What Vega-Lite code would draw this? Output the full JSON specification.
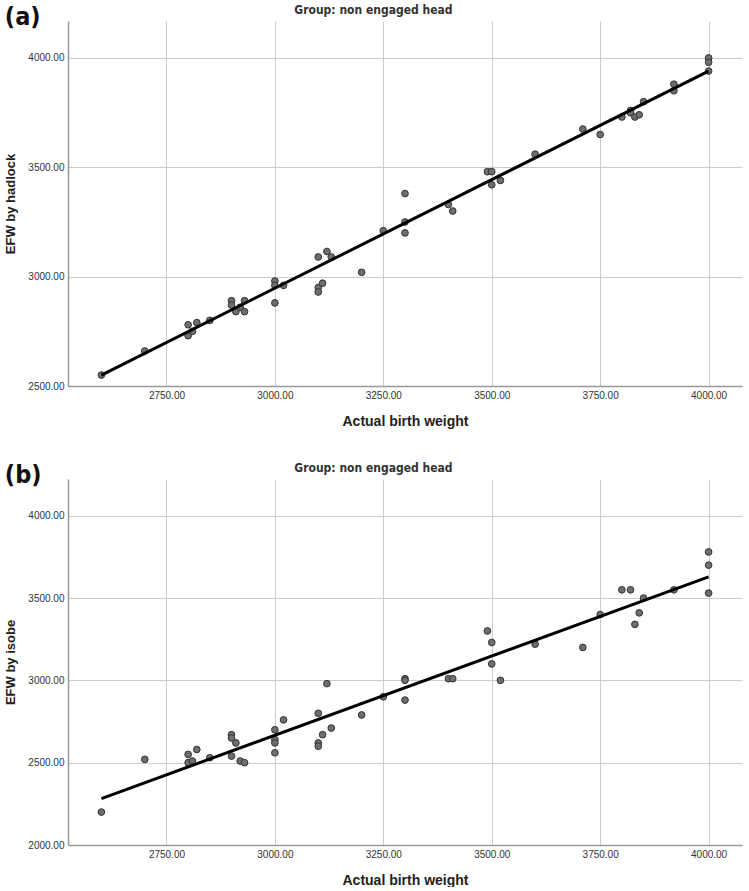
{
  "$schema": "https://vega.github.io/schema/vega-lite/v6.json",
  "padding": {"left": 4, "top": 4, "right": 6, "bottom": 0},
  "spacing": 34,
  "config": {
    "view": {"stroke": null},
    "concat": {"spacing": 34},
    "axis": {
      "labelFont": "Liberation Sans", "labelFontSize": 10, "labelColor": "#333333",
      "titleFont": "Liberation Sans", "titleFontWeight": "bold", "titleColor": "#222222",
      "gridColor": "#cccccc", "gridWidth": 1, "domainColor": "#999999", "domainWidth": 1.5,
      "ticks": false, "labelPadding": 4
    }
  },
  "datasets": {
    "a": [
      {"actual": 2600, "efw": 2550}, {"actual": 2700, "efw": 2660}, {"actual": 2800, "efw": 2780},
      {"actual": 2800, "efw": 2730}, {"actual": 2810, "efw": 2750}, {"actual": 2820, "efw": 2790},
      {"actual": 2850, "efw": 2800}, {"actual": 2900, "efw": 2890}, {"actual": 2900, "efw": 2870},
      {"actual": 2910, "efw": 2840}, {"actual": 2920, "efw": 2860}, {"actual": 2930, "efw": 2890},
      {"actual": 2930, "efw": 2840}, {"actual": 3000, "efw": 2980}, {"actual": 3000, "efw": 2960},
      {"actual": 3000, "efw": 2880}, {"actual": 3020, "efw": 2960}, {"actual": 3100, "efw": 3090},
      {"actual": 3100, "efw": 2950}, {"actual": 3100, "efw": 2930}, {"actual": 3110, "efw": 2970},
      {"actual": 3120, "efw": 3115}, {"actual": 3130, "efw": 3090}, {"actual": 3200, "efw": 3020},
      {"actual": 3250, "efw": 3210}, {"actual": 3300, "efw": 3250}, {"actual": 3300, "efw": 3200},
      {"actual": 3300, "efw": 3380}, {"actual": 3400, "efw": 3330}, {"actual": 3410, "efw": 3300},
      {"actual": 3490, "efw": 3480}, {"actual": 3500, "efw": 3480}, {"actual": 3500, "efw": 3420},
      {"actual": 3520, "efw": 3440}, {"actual": 3600, "efw": 3560}, {"actual": 3710, "efw": 3675},
      {"actual": 3750, "efw": 3650}, {"actual": 3800, "efw": 3730}, {"actual": 3820, "efw": 3760},
      {"actual": 3820, "efw": 3750}, {"actual": 3830, "efw": 3730}, {"actual": 3840, "efw": 3740},
      {"actual": 3850, "efw": 3800}, {"actual": 3920, "efw": 3880}, {"actual": 3920, "efw": 3850},
      {"actual": 4000, "efw": 4000}, {"actual": 4000, "efw": 3980}, {"actual": 4000, "efw": 3940}
    ],
    "b": [
      {"actual": 2600, "efw": 2200}, {"actual": 2700, "efw": 2520}, {"actual": 2800, "efw": 2550},
      {"actual": 2800, "efw": 2500}, {"actual": 2810, "efw": 2510}, {"actual": 2820, "efw": 2580},
      {"actual": 2850, "efw": 2530}, {"actual": 2900, "efw": 2670}, {"actual": 2900, "efw": 2650},
      {"actual": 2910, "efw": 2620}, {"actual": 2900, "efw": 2540}, {"actual": 2920, "efw": 2510},
      {"actual": 2930, "efw": 2500}, {"actual": 3000, "efw": 2700}, {"actual": 3000, "efw": 2640},
      {"actual": 3000, "efw": 2620}, {"actual": 3000, "efw": 2560}, {"actual": 3020, "efw": 2760},
      {"actual": 3100, "efw": 2800}, {"actual": 3100, "efw": 2620}, {"actual": 3100, "efw": 2600},
      {"actual": 3110, "efw": 2670}, {"actual": 3120, "efw": 2980}, {"actual": 3130, "efw": 2710},
      {"actual": 3200, "efw": 2790}, {"actual": 3250, "efw": 2900}, {"actual": 3300, "efw": 3010},
      {"actual": 3300, "efw": 3000}, {"actual": 3300, "efw": 2880}, {"actual": 3400, "efw": 3010},
      {"actual": 3410, "efw": 3010}, {"actual": 3490, "efw": 3300}, {"actual": 3500, "efw": 3230},
      {"actual": 3500, "efw": 3100}, {"actual": 3520, "efw": 3000}, {"actual": 3600, "efw": 3220},
      {"actual": 3710, "efw": 3200}, {"actual": 3750, "efw": 3400}, {"actual": 3800, "efw": 3550},
      {"actual": 3820, "efw": 3550}, {"actual": 3830, "efw": 3340}, {"actual": 3840, "efw": 3410},
      {"actual": 3850, "efw": 3500}, {"actual": 3920, "efw": 3550}, {"actual": 4000, "efw": 3780},
      {"actual": 4000, "efw": 3700}, {"actual": 4000, "efw": 3530}
    ],
    "fitA": [{"actual": 2600, "efw": 2550}, {"actual": 4000, "efw": 3940}],
    "fitB": [{"actual": 2600, "efw": 2282}, {"actual": 4000, "efw": 3628}]
  },
  "vconcat": [
    {
      "title": {"text": "(a)", "anchor": "start", "frame": "bounds", "font": "'DejaVu Sans Condensed', 'Liberation Sans Narrow', 'Liberation Sans', sans-serif", "fontSize": 25, "fontWeight": "bold", "color": "#111111", "baseline": "top", "offset": -26},
      "vconcat": [
        {
          "width": 674, "height": 365,
          "title": {"text": "Group: non engaged head", "anchor": "middle", "frame": "bounds", "font": "'DejaVu Sans Condensed', 'Liberation Sans Narrow', 'Liberation Sans', sans-serif", "fontSize": 12, "fontWeight": "bold", "color": "#333333", "offset": 4},
          "layer": [
            {
              "data": {"name": "a"},
              "mark": {"type": "circle", "size": 45, "color": "#6e6e6e", "stroke": "#333333", "strokeWidth": 1, "opacity": 1},
              "encoding": {
                "x": {"field": "actual", "type": "quantitative", "scale": {"domain": [2523, 4077], "nice": false, "zero": false},
                      "axis": {"title": "Actual birth weight", "values": [2750, 3000, 3250, 3500, 3750, 4000], "format": ".2f", "titleFontSize": 14, "titlePadding": 14, "grid": true}},
                "y": {"field": "efw", "type": "quantitative", "scale": {"domain": [2500, 4169], "nice": false, "zero": false},
                      "axis": {"title": "EFW by hadlock", "values": [2500, 3000, 3500, 4000], "format": ".2f", "titleFontSize": 13, "titlePadding": 10, "grid": true}}
              }
            },
            {
              "data": {"name": "fitA"},
              "mark": {"type": "line", "color": "#000000", "strokeWidth": 3},
              "encoding": {
                "x": {"field": "actual", "type": "quantitative"},
                "y": {"field": "efw", "type": "quantitative"}
              }
            }
          ]
        }
      ]
    },
    {
      "title": {"text": "(b)", "anchor": "start", "frame": "bounds", "font": "'DejaVu Sans Condensed', 'Liberation Sans Narrow', 'Liberation Sans', sans-serif", "fontSize": 25, "fontWeight": "bold", "color": "#111111", "baseline": "top", "offset": -26},
      "vconcat": [
        {
          "width": 674, "height": 366,
          "title": {"text": "Group: non engaged head", "anchor": "middle", "frame": "bounds", "font": "'DejaVu Sans Condensed', 'Liberation Sans Narrow', 'Liberation Sans', sans-serif", "fontSize": 12, "fontWeight": "bold", "color": "#333333", "offset": 4},
          "layer": [
            {
              "data": {"name": "b"},
              "mark": {"type": "circle", "size": 45, "color": "#6e6e6e", "stroke": "#333333", "strokeWidth": 1, "opacity": 1},
              "encoding": {
                "x": {"field": "actual", "type": "quantitative", "scale": {"domain": [2523, 4077], "nice": false, "zero": false},
                      "axis": {"title": "Actual birth weight", "values": [2750, 3000, 3250, 3500, 3750, 4000], "format": ".2f", "titleFontSize": 14, "titlePadding": 14, "grid": true}},
                "y": {"field": "efw", "type": "quantitative", "scale": {"domain": [2000, 4223], "nice": false, "zero": false},
                      "axis": {"title": "EFW by isobe", "values": [2000, 2500, 3000, 3500, 4000], "format": ".2f", "titleFontSize": 13, "titlePadding": 10, "grid": true}}
              }
            },
            {
              "data": {"name": "fitB"},
              "mark": {"type": "line", "color": "#000000", "strokeWidth": 3},
              "encoding": {
                "x": {"field": "actual", "type": "quantitative"},
                "y": {"field": "efw", "type": "quantitative"}
              }
            }
          ]
        }
      ]
    }
  ]
}
